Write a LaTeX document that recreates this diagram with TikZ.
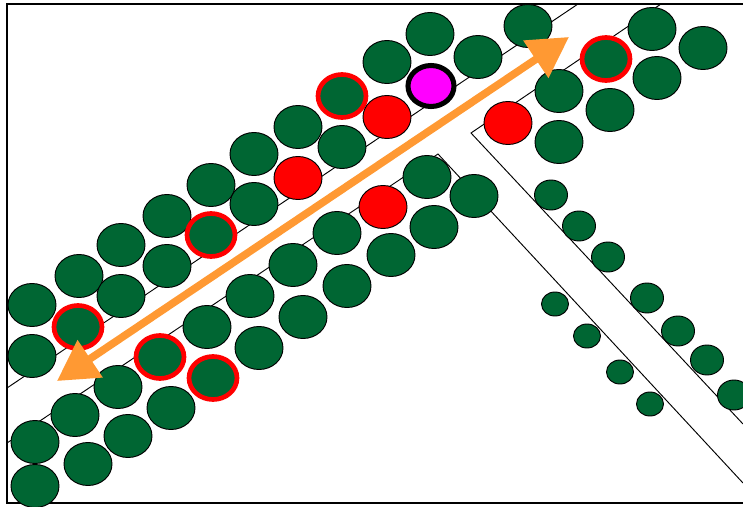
\documentclass[tikz,border=0pt]{standalone}
\usetikzlibrary{arrows.meta}
\definecolor{cellgreen}{HTML}{006633}
\definecolor{flowor}{HTML}{FF9933}
\definecolor{probemag}{HTML}{FF00FF}
\definecolor{hitred}{HTML}{FF0000}
\begin{document}
\begin{tikzpicture}[x=0.03cm,y=-0.03cm,
    cell/.style={fill=cellgreen,draw=black,line width=0.8pt},
    tagged/.style={fill=cellgreen,draw=hitred,line width=4pt},
    hit/.style={fill=hitred,draw=black,line width=0.8pt},
    probe/.style={fill=probemag,draw=black,line width=4.3pt},
    wall/.style={draw=black,line width=0.8pt}]
    \useasboundingbox (0,0) rectangle (743,507);
    \clip (0,0) rectangle (743,507);
    %frame
    \draw[line width=1.2pt] (7,4) rectangle (760,503);

    %channel walls
    \draw[wall] (7,388) -- (578,4);
    \draw[wall] (7,443) -- (438,154) -- (743,483);
    \draw[wall] (661,4) -- (471,133) -- (743,424);

    %big cells
    \foreach \p in {(32,305),(79,276),(121,245),(167,216),(211,185),(254,154),(298,127),(387,62),(430,34),
                    (32,356),(121,296),(167,266),(254,204),(342,147),(478,57),(528,26),
                    (35,442),(75,415),(118,387),(207,327),(250,296),(293,265),(337,233),(427,177),
                    (88,464),(128,436),(171,408),(259,348),(303,317),(347,286),(391,255),(434,227),(474,196),
                    (35,486),(559,91),(652,29),(703,48),(657,78),(610,110),(559,142)}
        \path[cell] \p ellipse [x radius=24, y radius=21.5];
    \foreach \p in {(342,96),(78,327),(211,235),(160,357),(213,378),(606,59)}
        \path[tagged] \p ellipse [x radius=24, y radius=21.5];
    \foreach \p in {(298,178),(387,117),(383,207),(508,123)}
        \path[hit] \p ellipse [x radius=24, y radius=21.5];
    \path[probe] (431,86) ellipse [x radius=23, y radius=20.5];

    %side branch
    \foreach \p in {(551,195),(579,226),(608,257),(647,298),(678,331),(707,360),(734,395)}
        \path[cell] \p ellipse [x radius=16.5, y radius=15];
    \foreach \p in {(555,304),(587,336),(620,372),(650,404)}
        \path[cell] \p ellipse [x radius=13.5, y radius=12];

    %flow
    \draw[flowor, line width=6.5pt, {Triangle[length=1.2cm,width=1.3cm]}-{Triangle[length=1.2cm,width=1.3cm]}]
        (57,381) -- (569,37);
\end{tikzpicture}
\end{document}
